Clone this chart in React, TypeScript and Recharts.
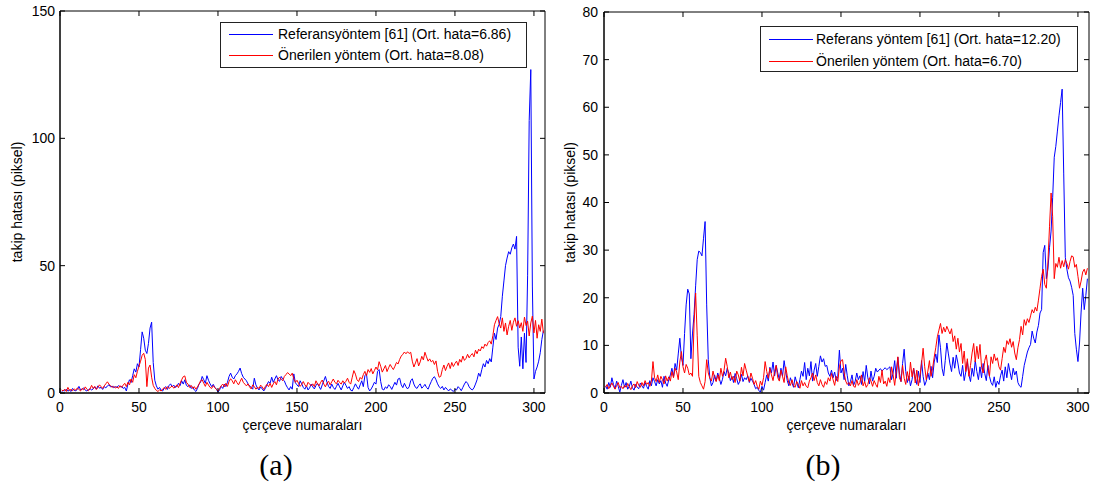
import React from 'react';
import { LineChart, Line, XAxis, YAxis, Legend, ReferenceArea } from 'recharts';

const FONT = '"Liberation Sans", Arial, Helvetica, sans-serif';

// x axis (frame numbers) and y ticks
const xTicks = [0, 50, 100, 150, 200, 250, 300];
const yTicksA = [0, 50, 100, 150];
const yTicksB = [0, 10, 20, 30, 40, 50, 60, 70, 80];

const namesA = ['Referansyöntem [61] (Ort. hata=6.86)', 'Önerilen yöntem (Ort. hata=8.08)'];
const namesB = ['Referans yöntem [61] (Ort. hata=12.20)', 'Önerilen yöntem (Ort. hata=6.70)'];
const colors = ['#0000ff', '#ff0000'];

// (a) reference method, frames 1..306
const refA = [
  0.5, 1, 0.8, 1.5, 0.7, 1.2, 0.6, 1.8, 1, 0.9,
  1.4, 2.6, 1.2, 1.5, 2, 1.1, 0.8, 1.3, 1.7, 1.2,
  1.6, 2.4, 1.5, 2.8, 1.9, 2.2, 1.4, 2.5, 2, 2.8,
  3.2, 2.4, 2.7, 2.1, 2.5, 2.2, 2.9, 2.4, 2.6, 1.8,
  2.2, 0.8, 3.5, 5.2, 4.1, 6.8, 9.5, 8.2, 11.5, 10.2,
  17, 24, 21.5, 16.8, 15.5, 19.5, 25.5, 27.8, 12, 5,
  2.8, 1.5, 2.2, 1.1, 0.8, 1.9, 2.5, 1.4, 2.9, 3.6,
  2.4, 3.1, 2.2, 2.6, 3.8, 2.9, 4.8, 3.5, 5.2, 3,
  2.5, 3.2, 1.8, 2.4, 1.2, 0.6, 1.8, 3.5, 4.2, 6.5,
  5.2, 3.8, 6.8, 5, 3.6, 2.5, 3.4, 2.2, 1.5, 0.4,
  1.2, 2.6, 1.8, 3.5, 2.5, 4.2, 6.5, 7.8, 6.2, 5.5,
  6.8, 7.5, 8.5, 9.8, 7.6, 6.2, 5.5, 4.8, 3.6, 2.8,
  2.2, 1.5, 5.8, 3.2, 1.9, 1.2, 2.4, 1.6, 0.8, 1.8,
  3.2, 4.5, 3.8, 6.2, 4.2, 5.5, 6.8, 5.2, 4.6, 6.5,
  5.4, 4.8, 3.2, 2.1, 1.2, 2.5, 1.5, 7.5, 4, 3.2,
  2.5, 4.8, 3.6, 2.2, 1.5, 2.8, 1.2, 2, 3.5, 2.4,
  1.6, 2.9, 3.8, 2.5, 1.4, 3.2, 4.8, 6.5, 4.2, 2.6,
  1.8, 3.5, 2.2, 1.4, 2.6, 3.8, 2.4, 1.2, 2.8, 4.2,
  3, 1.8, 2.5, 1.1, 0.8, 2.2, 3.6, 2.4, 1.5, 3.2,
  4.8, 2.5, 6.8, 7.5, 2.2, 0.8, 1.6, 2.8, 4.2, 3.5,
  8.5, 9.2, 4.5, 1.5, 1.2, 2.4, 1.8, 3.2, 2.6, 1.4,
  2.8, 4.2, 3.1, 5.5, 5.8, 3.2, 2.1, 3.8, 2.5, 1.6,
  2.4, 4.8, 5.6, 3.5, 2.2, 1.8, 2.9, 3.6, 1.9, 2.5,
  3.4, 2.2, 1.5, 3.1, 4.5, 5.8, 6.4, 5.2, 3.6, 2.4,
  1.8, 2.6, 1.2, 2.2, 1.5, 0.8, 1.6, 1.1, 0.6, 1.4,
  1.2, 2.5, 1.8, 0.9, 2.2, 3.5, 4.5, 3.8, 2.4, 1.6,
  1.2, 2, 3.5, 5.2, 7.8, 6.5, 9.2, 11.5, 10.2, 12.8,
  11.5, 13.5, 12.2, 18, 23.5, 21, 25.5, 27, 30, 38,
  44, 50, 53, 55.5, 54.5, 57, 58.5, 56.5, 61.5, 18,
  10.5, 22, 9.5, 23.5, 12, 46, 107, 127, 42, 5.5,
  8.5, 10.2, 12.5, 15.8, 21, 24.5,
];

// (a) proposed method
const propA = [
  1.2, 0.8, 1.5, 0.6, 2.2, 1, 1.4, 0.9, 1.6, 1.1,
  2, 1.4, 0.8, 1.8, 1.2, 2.4, 1.5, 0.9, 1.6, 3,
  1.8, 2.6, 1.4, 2.2, 3.2, 2.5, 1.8, 2.8, 3.6, 4.4,
  3.5, 2.8, 2.2, 2.6, 2, 2.4, 1.8, 2.9, 2.2, 3.1,
  3.8, 2.5, 4.2, 3.2, 5.5, 4.2, 7.2, 6, 8.5, 10.5,
  12.5, 14.8, 15.6, 13.2, 2.5, 9.8, 11, 6.2, 3, 1.8,
  1, 0.6, 1.2, 0.8, 1.5, 2.2, 1.4, 2.5, 1.8, 2.2,
  2.8, 1.9, 2.4, 3.2, 2.1, 3.8, 5.2, 6.4, 6.7, 4.2,
  3.5, 2.2, 3, 1.8, 2.5, 1.5, 2.4, 3.5, 4.8, 5.2,
  3.8, 2.6, 4.2, 3.1, 2.2, 1.8, 2.9, 2.1, 1.4, 0.8,
  1.8, 2.8, 3.5, 2.4, 3.8, 2.6, 4.5, 5.6, 4.8, 3.6,
  5.2, 4.1, 3.2, 4.5, 5.8, 4.2, 3.5, 2.8, 3.6, 2.4,
  1.6, 3.2, 2.5, 1.5, 2.2, 1.8, 3.1, 2.4, 1.4, 2.6,
  3.4, 2.5, 3.8, 2.2, 3.6, 4.5, 3.2, 5.5, 6.2, 5.4,
  4.8, 6.5, 7.2, 8, 7.5, 6.8, 7.8, 5.6, 4.2, 5,
  3.8, 2.6, 3.4, 4.5, 3.2, 2.4, 4.2, 3.5, 2.8, 3.6,
  2.5, 4.8, 3.6, 2.8, 4.2, 5.1, 3.5, 2.4, 3.9, 4.6,
  3.2, 4.4, 5.5, 4.2, 3.6, 5, 4.1, 3.5, 4.8, 3.9,
  4.6, 5.8, 4.2, 3.5, 6.2, 8.8, 7.4, 5.2, 4.5, 6.1,
  5.4, 7.2, 8.5, 6.8, 9.2, 8.1, 9.6, 7.5, 8.8, 10.2,
  9.1, 12.3, 10.5, 8.2, 9.5, 10.8, 8.4, 9.9, 11.2, 10.1,
  9.2, 10.5, 12, 11.4, 13.2, 14.5, 15.2, 16.1, 15.4, 16.2,
  15.5, 16, 12.5, 10.2, 11.8, 13.5, 10.6, 12.2, 14.4, 13,
  16, 14.2, 12.5, 13.4, 12.2, 12.8, 11.2, 12.6, 8.5, 6.2,
  6.5, 9.2, 11, 8.8, 10.5, 11.8, 9.6, 12, 10.4, 11.6,
  12.5, 10.8, 13.2, 12.1, 14.5, 12.8, 13.6, 15.2, 13.8, 14.8,
  15.5, 14.2, 16.8, 15.4, 17.2, 16.5, 18.2, 17.5, 19.2, 18.4,
  19.8, 20.5, 19.2, 22.5, 26.8, 28.5, 30, 27.2, 25.5, 29.5,
  24.2, 27.5, 22.8, 26.2, 28.5, 24.6, 27.8, 29.5, 26.2, 28.4,
  25.5, 27.6, 24.2, 29.8, 26.5, 28.2, 22.4, 27.5, 30.2, 23.6,
  28.5, 21.5, 26.8, 24.2, 29, 23.5,
];

// (b) reference method
const refB = [
  1.5, 0.8, 2.2, 1.2, 3.2, 1.8, 0.9, 2.5, 1.4, 0.2,
  1.6, 2.8, 1.2, 2.2, 0.8, 1.4, 2.5, 1.1, 0.6, 1.8,
  1.2, 0.9, 2.1, 1.5, 1, 2.2, 1.4, 0.8, 2.6, 1.5,
  3.2, 2.4, 1.5, 2.8, 1.9, 2.6, 1.2, 3.5, 2.1, 1.4,
  2.8, 3.8, 5.2, 3.4, 6.2, 4.8, 8.2, 11.5, 7.5, 5.8,
  12.5, 18.5, 21.8, 20.8, 7.2, 12.4, 16.5, 22.5, 28, 29.8,
  29.5, 28.8, 32.5, 36, 18.5, 7, 3.2, 1.5, 2.2, 3.8,
  2.5, 4.2, 3.1, 1.8, 2.9, 4.5, 3.6, 5.2, 4.1, 2.6,
  3.5, 2.2, 4.1, 3, 1.8, 2.5, 3.9, 2.4, 3.2, 2.8,
  3.6, 2.2, 3.1, 2.5, 1.8, 0.9, 1.2, 0.5, 0.2, 1.4,
  0.6, 2.2, 3.8, 2.5, 5.4, 4.2, 6.5, 3.6, 5.8, 4.2,
  2.8, 5.2, 3.5, 6.8, 4.5, 2.6, 1.5, 3.2, 2.1, 1.2,
  3.4, 2.2, 1.1, 2.8, 4.6, 3.5, 6.4, 2.8, 5.2, 3.6,
  6.6, 2.5, 4.8, 6.2, 3.5, 5.6, 7.8, 6.5, 7.2, 5.6,
  5.8, 4.2, 3.5, 4.8, 3.2, 4.4, 2.6, 3.5, 9, 4.2,
  5.2, 2.8, 6, 3.6, 1.5, 2.4, 3.8, 1.6, 2.5, 4.2,
  2.8, 3.6, 1.8, 4.5, 2.4, 5.8, 3.2, 1.9, 4.6, 2.5,
  3.5, 5.2, 4.4, 4.8, 5.1, 4.6, 5, 5.3, 4.9, 5.2,
  5.5, 2.8, 4.2, 6.8, 3.1, 7.5, 4.2, 2.4, 6.2, 9.2,
  4.5, 2.2, 3.6, 1.5, 2.8, 5.2, 3.4, 1.8, 4.6, 2.2,
  6.8, 3.5, 1.6, 2.5, 4.2, 2.8, 5.6, 3.2, 6.5, 8.2,
  6.4, 12.2, 9.5, 5.2, 3.6, 6.8, 10.5, 8.2, 6.1, 4.5,
  7.5, 5.2, 8, 6.3, 4.2, 3.5, 5.8, 2.6, 4.4, 6.6,
  3.8, 2.4, 5.2, 3.5, 6.8, 4.5, 2.8, 5.5, 3.2, 6.2,
  4.1, 2.6, 5.8, 3.5, 2.2, 1.6, 3.4, 1.2, 2.5, 1.8,
  3.6, 4.8, 2.5, 5.5, 3.2, 6.2, 4.4, 2.8, 5.2, 3.8,
  4.6, 2.2, 1.5, 1.2, 3.5, 5.8, 7.2, 8.6, 9.5, 10.2,
  13, 11.5, 10.5, 12.8, 14.2, 16.8, 17.5, 29.5, 31, 24,
  26, 30.5, 34, 41, 49.5, 51.8, 55, 58.2, 61, 63.8,
  46, 28.5, 26, 24.2, 23.5, 22.2, 20.5, 12.5, 9.2, 6.6,
  10.5, 17, 22, 17.5, 20.5, 24,
];

// (b) proposed method
const propB = [
  1.2, 1.8, 0.9, 1.5, 2.1, 1.4, 0.8, 1.6, 2.2, 1.1,
  1.4, 0.9, 1.6, 1.2, 2, 1.3, 0.7, 1.5, 1.9, 1.1,
  2.4, 1.6, 1.2, 2.2, 1.5, 2.6, 1.8, 2.2, 1.4, 2.5,
  6.6, 3.2, 2.4, 3.8, 2.2, 3.5, 2.8, 1.9, 3.6, 2.5,
  3.4, 2.5, 4.5, 3.2, 5.2, 4.4, 2.8, 6.5, 8.7, 5.5,
  4.2, 6, 5.2, 3.8, 4.2, 3.5, 14.5, 21, 12, 3.5,
  2.2, 1.5, 0.8, 2.4, 7, 4.2, 3.1, 2.5, 4.6, 3.2,
  2.4, 3.8, 2.6, 5.2, 3.5, 4.8, 7.3, 5.6, 3.2, 4.4,
  2.8, 3.5, 2.2, 4.6, 3.8, 2.5, 5.4, 3.6, 6.2, 4.8,
  3.5, 2.4, 4.2, 3.1, 1.8, 2.6, 1.4, 0.8, 2.5, 1.6,
  3.2, 6.6, 4.5, 3.1, 5.2, 3.8, 2.6, 4.5, 5.8, 3.2,
  2.5, 4.8, 3.5, 2.2, 5.5, 3.6, 2.1, 1.6, 2.8, 1.5,
  1.2, 2.4, 1.8, 1, 2.6, 1.5, 2.2, 1.4, 1.1, 2.5,
  3.2, 4.2, 2.6, 3.8, 2.2, 1.5, 2.8, 1.8, 1.2, 2.4,
  1.8, 3.2, 2.5, 4.1, 2.8, 1.6, 3.5, 2.4, 5.5, 6.8,
  7, 4.2, 2.5, 1.8, 2.2, 1.5, 2.6, 1.4, 1.2, 2.8,
  1.6, 2.2, 3.8, 1.5, 2.4, 1.2, 1.8, 3.2, 2.5, 1.4,
  2.6, 1.8, 1.2, 3.5, 2.2, 4.8, 1.9, 2.5, 1.4, 3.2,
  2.2, 5.5, 3.8, 1.6, 4.5, 7.6, 3.2, 2.4, 5.8, 3.1,
  1.8, 4.5, 2.6, 6.5, 3.4, 5.2, 2.1, 4.8, 1.5, 3.6,
  6.2, 9.4, 5.5, 2.8, 4.6, 6.8, 3.5, 5.2, 7.5, 9.5,
  11.8, 13.2, 14.6, 12.5, 13.8, 12.8, 14, 13.2, 12.4, 13.5,
  10.8, 12, 9.2, 11.5, 8.6, 10.4, 6.2, 8.8, 4.5, 7.2,
  3.5, 5.8, 8.4, 10.4, 6.5, 9.8, 7.2, 10.2, 5.4, 4.2,
  6.8, 8, 5.2, 3.5, 7.6, 6.2, 8.2, 6.8, 7.4, 5.5,
  4.8, 7.2, 9.6, 8.5, 11, 10.2, 11.4, 9.6, 10.8, 8.4,
  7, 9.5, 11.2, 14, 12.2, 15.4, 14.2, 15.6, 14.8, 16.2,
  17.5, 16.8, 18, 17.2, 19.5, 22, 24.5, 26, 22.8, 22,
  27.5, 34.9, 42, 37, 24, 27.2, 26.4, 28.5, 26.2, 27.8,
  26.5, 28, 27.2, 26, 27.6, 28.8, 28.6, 26.4, 27, 24.5,
  22, 23.5, 25.4, 26, 24.8, 26.2,
];

const buildRows = (ref: number[], prop: number[]) =>
  ref.map((v, i) => ({ frame: i + 1, ref: v, prop: prop[i] }));

const rowsA = buildRows(refA, propA);
const rowsB = buildRows(refB, propB);

const axisText = { fill: '#000', fontSize: 14, fontFamily: FONT };
const PLOT_W = 485;
const PLOT_BOTTOM = 393;
const X_TICK_MARGIN = 9;

// bottom tick label + inward tick marks at bottom and top of the box
const XTick = ({ x, y, payload, plotTop }: any) => (
  <g>
    <line x1={x} x2={x} y1={PLOT_BOTTOM} y2={PLOT_BOTTOM - 5} stroke="#000" />
    <line x1={x} x2={x} y1={plotTop} y2={plotTop + 5} stroke="#000" />
    <text x={x} y={y} dy="0.71em" textAnchor="middle" {...axisText}>
      {payload.value}
    </text>
  </g>
);

// left tick label + inward tick marks on left and right of the box
const YTick = ({ x, y, payload, plotLeft }: any) => (
  <g>
    <line x1={plotLeft} x2={plotLeft + 5} y1={y} y2={y} stroke="#000" />
    <line x1={plotLeft + PLOT_W} x2={plotLeft + PLOT_W - 5} y1={y} y2={y} stroke="#000" />
    <text x={x} y={y} dy="0.355em" textAnchor="end" {...axisText}>
      {payload.value}
    </text>
  </g>
);

const BoxLegend = ({ names, box }: any) => (
  <div
    style={{
      width: box.w,
      height: box.h,
      border: '1px solid #222',
      background: '#fff',
      boxSizing: 'border-box',
      position: 'relative',
      fontFamily: FONT,
      fontSize: 14,
    }}
  >
    {names.map((n: string, i: number) => (
      <div
        key={n}
        style={{
          position: 'absolute',
          left: 0,
          top: box.rowTop + i * box.rowGap - 9,
          height: 18,
          display: 'flex',
          alignItems: 'center',
          whiteSpace: 'nowrap',
        }}
      >
        <span style={{ display: 'inline-block', marginLeft: 8, width: 44, height: 1, background: colors[i] }} />
        <span style={{ marginLeft: box.textGap, color: '#000' }}>{n}</span>
      </div>
    ))}
  </div>
);

function Panel({ rows, yMax, yTicks, names, left, width, top, yWidth, yTickMargin, yLabelOffset, box }: any) {
  return (
    <div style={{ position: 'absolute', left, top: 0 }}>
      <LineChart width={width} height={440} data={rows} margin={{ top, right: width - yWidth - PLOT_W, bottom: 0, left: 0 }}>
        <XAxis
          xAxisId="b"
          dataKey="frame"
          type="number"
          domain={[0, 307]}
          ticks={xTicks}
          interval={0}
          allowDataOverflow
          height={440 - PLOT_BOTTOM}
          tickSize={0}
          tickLine={false}
          tickMargin={X_TICK_MARGIN}
          stroke="#000"
          tick={<XTick plotTop={top} />}
          label={{ value: 'çerçeve numaraları', position: 'insideBottom', offset: 10, ...axisText }}
        />
        <YAxis
          yAxisId="l"
          type="number"
          domain={[0, yMax]}
          ticks={yTicks}
          interval={0}
          allowDataOverflow
          width={yWidth}
          tickSize={0}
          tickLine={false}
          tickMargin={yTickMargin}
          stroke="#000"
          tick={<YTick plotLeft={yWidth} />}
          label={{
            value: 'takip hatası (piksel)',
            angle: -90,
            position: 'insideLeft',
            offset: yLabelOffset,
            ...axisText,
            style: { textAnchor: 'middle' },
          }}
        />
        <ReferenceArea
          xAxisId="b"
          yAxisId="l"
          x1={0}
          x2={307}
          y1={0}
          y2={yMax}
          fill="none"
          fillOpacity={0}
          stroke="#000"
          strokeWidth={1}
          ifOverflow="visible"
        />
        <Legend
          layout="vertical"
          align="center"
          verticalAlign="middle"
          wrapperStyle={{ left: box.x, top: box.y, width: box.w, height: box.h }}
          content={() => <BoxLegend names={names} box={box} />}
        />
        <Line
          xAxisId="b"
          yAxisId="l"
          type="linear"
          dataKey="ref"
          name={names[0]}
          stroke={colors[0]}
          strokeWidth={1}
          dot={false}
          isAnimationActive={false}
        />
        <Line
          xAxisId="b"
          yAxisId="l"
          type="linear"
          dataKey="prop"
          name={names[1]}
          stroke={colors[1]}
          strokeWidth={1}
          dot={false}
          isAnimationActive={false}
        />
      </LineChart>
    </div>
  );
}

const caption = {
  position: 'absolute' as const,
  top: 450,
  width: 80,
  textAlign: 'center' as const,
  fontFamily: '"Liberation Serif", "Times New Roman", serif',
  fontSize: 30,
  lineHeight: '30px',
  color: '#000',
};

export default function App() {
  return (
    <div style={{ position: 'absolute', left: 0, top: 0, width: 1094, height: 486, background: '#fff', overflow: 'hidden' }}>
      <Panel
        rows={rowsA}
        yMax={150}
        yTicks={yTicksA}
        names={namesA}
        left={0}
        width={560}
        top={11}
        yWidth={60}
        yTickMargin={5}
        yLabelOffset={17}
        box={{ x: 220, y: 22, w: 307, h: 46, rowTop: 11, rowGap: 21, textGap: 5 }}
      />
      <Panel
        rows={rowsB}
        yMax={80}
        yTicks={yTicksB}
        names={namesB}
        left={548}
        width={546}
        top={12}
        yWidth={56}
        yTickMargin={6}
        yLabelOffset={22}
        box={{ x: 212, y: 26, w: 318, h: 46, rowTop: 12, rowGap: 22, textGap: 3 }}
      />
      <div style={{ ...caption, left: 236 }}>(a)</div>
      <div style={{ ...caption, left: 783 }}>(b)</div>
    </div>
  );
}
